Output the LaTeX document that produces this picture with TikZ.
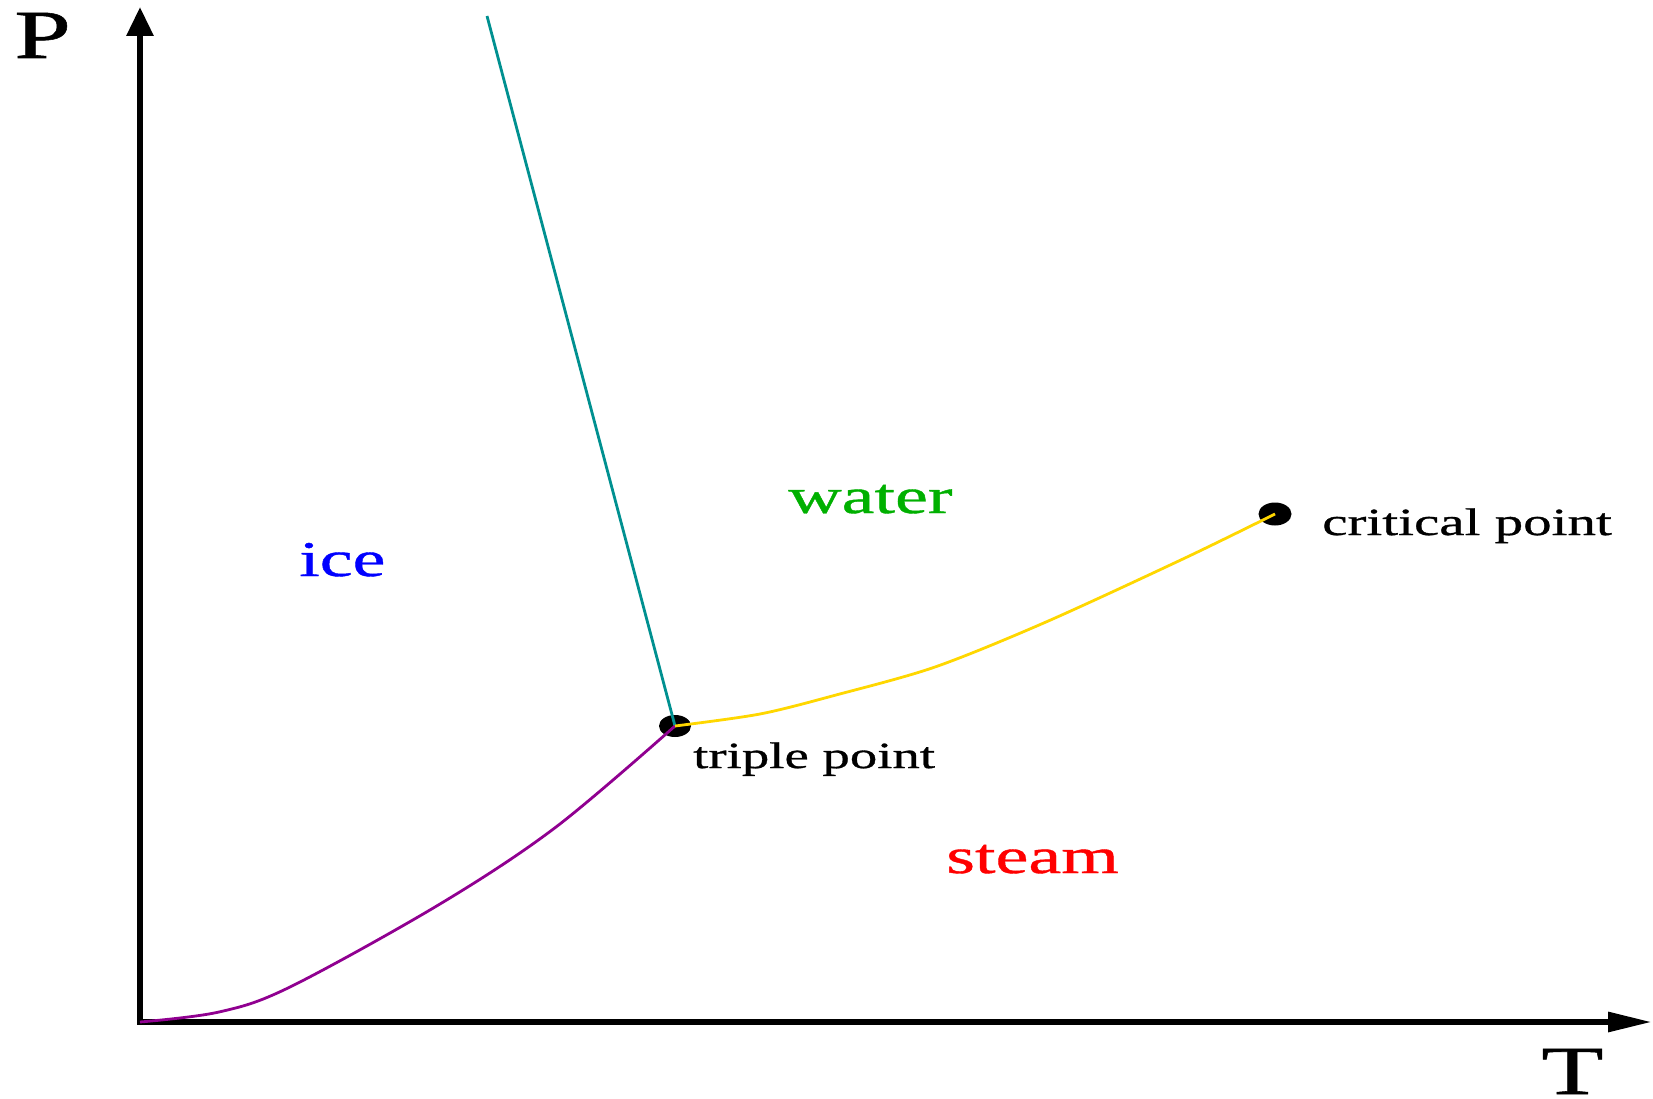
\documentclass[tikz,border=0pt]{standalone}
\usepackage{fontspec}
\usepackage{graphicx}
\setmainfont{Liberation Serif}
\newfontfamily\wideserif[FakeStretch=1.48,FakeBold=0.8]{Liberation Serif}
\usetikzlibrary{arrows.meta,shapes.geometric}
\definecolor{icecol}{RGB}{0,0,255}
\definecolor{watercol}{RGB}{0,176,0}
\definecolor{steamcol}{RGB}{255,0,0}
\definecolor{meltcol}{RGB}{0,144,144}
\definecolor{sublcol}{RGB}{144,0,144}
\definecolor{boilcol}{RGB}{255,215,0}
\begin{document}
\begin{tikzpicture}[x=1pt,y=-1pt,
  axis/.style={line width=6pt, line join=miter},
  dotnode/.style={ellipse, fill=black, inner sep=0pt, minimum width=32pt, minimum height=22pt},
  axislabel/.style={anchor=base west, inner sep=0pt, font=\wideserif\fontsize{69}{80}\selectfont},
  phase/.style={anchor=base west, inner sep=0pt, font=\wideserif\fontsize{50}{60}\selectfont},
  ptlabel/.style={anchor=base west, inner sep=0pt, font=\wideserif\fontsize{37}{44}\selectfont},
  curve/.style={line width=2.8pt}]
\useasboundingbox (0,0) rectangle (1653,1099);
\coordinate (origin) at (140,1022);
\coordinate (ytip) at (140,7);
\coordinate (xtip) at (1652,1022);
\coordinate (meltend) at (487,16);
\draw[axis, {Triangle[length=29pt,width=26pt]}-{Triangle[length=44pt,width=19pt]}] (ytip) -- (origin) -- (xtip);
\node[axislabel] (P) at (14,58) {P};
\node[axislabel] (T) at (1541,1094) {T};
\node[dotnode] (tp) at (675,726) {};
\node[dotnode, minimum width=33pt, minimum height=23pt] (cp) at (1275,514) {};
\draw[curve, meltcol] (meltend) -- (tp.center);
\draw[curve, sublcol] plot[smooth, tension=0.55] coordinates {(origin) (219,1012) (290,987) (440,904) (556,827) (tp.center)};
\draw[curve, boilcol] plot[smooth, tension=0.5] coordinates {(tp.center) (760,714) (836,695) (935,667) (1046,622) (1185,558) (cp.center)};
\node[phase, text=icecol] (ice) at (299,576) {ice};
\node[phase, text=watercol] (water) at (788,513) {water};
\node[phase, text=steamcol] (steam) at (946,873) {steam};
\node[ptlabel] (tplabel) at (693,768) {triple point};
\node[ptlabel, font=\wideserif\fontsize{38.5}{46}\selectfont] (cplabel) at (1322,535) {critical point};
\end{tikzpicture}
\end{document}
